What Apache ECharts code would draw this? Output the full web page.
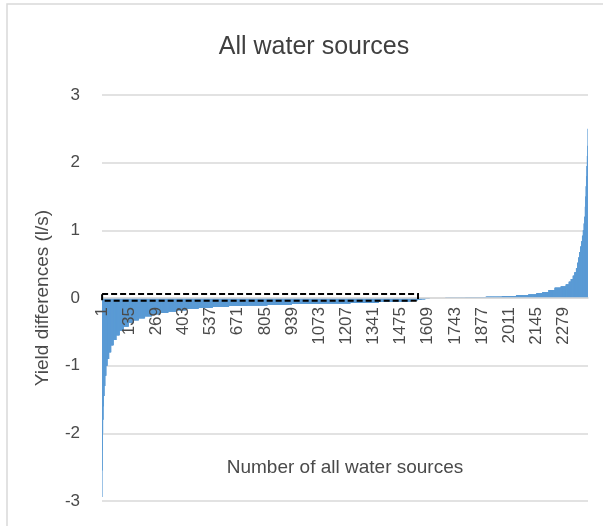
<!DOCTYPE html>
<html lang="en">
<head>
    <meta charset="UTF-8">
    <title>All water sources</title>
    <script src="https://cdn.jsdelivr.net/npm/echarts@6.0.0/dist/echarts.min.js"></script>
    <style>
        body, html {
            margin: 0;
            padding: 0;
            width: 100%;
            height: 100%;
            overflow: hidden;
            background-color: #fff;
        }
        #chart {
            width: 603px;
            height: 526px;
        }
    </style>
</head>
<body>
    <div id="chart"></div>
    <script>
        var runValues = [
            -2.94, -2.55, -2.25, -2.0, -1.8, -1.6, -1.45, -1.3, -1.15, -1.0,
            -0.9, -0.8, -0.7, -0.62, -0.55, -0.48, -0.42, -0.37, -0.33, -0.30,
            -0.27, -0.24, -0.22, -0.20, -0.18, -0.16, -0.145, -0.13, -0.12, -0.11,
            -0.10, -0.09, -0.08, -0.07, -0.06, -0.05, -0.04, -0.03, -0.02, -0.01,
            0, 0.005, 0.01, 0.02, 0.03, 0.04, 0.05, 0.07, 0.09, 0.12,
            0.15, 0.17, 0.20, 0.24, 0.28, 0.33, 0.38, 0.44, 0.52, 0.6,
            0.68, 0.76, 0.84, 0.92, 1.0, 1.1, 1.2, 1.35, 1.5, 1.65,
            1.8, 1.95, 2.1, 2.25, 2.5
        ];
        // how many water sources share each value above
        var runCounts = [
            1, 1, 1, 1, 2, 2, 3, 4, 5, 6,
            8, 10, 12, 14, 16, 20, 25, 25, 25, 30,
            35, 40, 40, 40, 50, 60, 70, 80, 90, 100,
            120, 140, 150, 140, 100, 60, 30, 20, 20, 20,
            80, 100, 100, 80, 70, 60, 40, 30, 30, 30,
            30, 25, 15, 10, 10, 8, 8, 6, 5, 5,
            5, 5, 4, 4, 4, 3, 3, 2, 2, 2,
            2, 2, 2, 1, 1
        ];
        var yTicks = [-3, -2, -1, 0, 1, 2, 3];
        var labelStep = 134;
        // dashed box around the negative part near zero
        var boxStart = '1';
        var boxEnd = '1561';
        var boxTop = 0.06;
        var boxBottom = -0.04;

        var values = [];
        for (var i = 0; i < runValues.length; i++) {
            for (var k = 0; k < runCounts[i]; k++) values.push(runValues[i]);
        }
        var categories = values.map(function (v, idx) { return String(idx + 1); });

        var textColor = '#4a4a4a';
        var font = 'Liberation Sans';
        var yMin = yTicks[0], yMax = yTicks[yTicks.length - 1];
        var gridTop = 95, gridBottom = 25;
        var gridHeight = 526 - gridTop - gridBottom;
        // the category axis crosses the value axis at 0 (onZero is unreliable here)
        var zeroOffset = -gridHeight * (0 - yMin) / (yMax - yMin);

        var option = {
            animation: false,
            backgroundColor: '#fff',
            title: {
                text: 'All water sources',
                left: 309,
                top: 30,
                textAlign: 'center',
                textStyle: { fontFamily: font, fontSize: 25, fontWeight: 'normal', color: '#404040' }
            },
            graphic: [{
                id: 'frame',
                type: 'rect',
                shape: { x: 7, y: 4, width: 700, height: 600 },
                style: { fill: 'none', stroke: '#d9d9d9', lineWidth: 1.5 },
                silent: true
            }],
            grid: { left: 102, right: 15, top: gridTop, bottom: gridBottom, outerBoundsMode: 'none', containLabel: false },
            xAxis: {
                type: 'category',
                position: 'bottom',
                offset: zeroOffset,
                z: 10,
                data: categories,
                name: 'Number of all water sources',
                nameLocation: 'middle',
                nameGap: 160,
                nameTextStyle: { fontFamily: font, fontSize: 19, color: textColor },
                axisLine: { onZero: false, lineStyle: { color: '#d9d9d9', width: 1.5 } },
                axisTick: { show: false },
                axisLabel: {
                    interval: labelStep - 1,
                    rotate: 90,
                    margin: 9,
                    fontFamily: font,
                    fontSize: 17,
                    color: textColor
                },
                splitLine: { show: false }
            },
            yAxis: {
                type: 'value',
                min: yMin,
                max: yMax,
                interval: 1,
                name: 'Yield differences (l/s)',
                nameLocation: 'middle',
                nameGap: 50,
                nameTextStyle: { fontFamily: font, fontSize: 19, color: textColor },
                axisLine: { show: false },
                axisTick: { show: false },
                axisLabel: { margin: 22, fontFamily: font, fontSize: 17, color: textColor },
                splitLine: { lineStyle: { color: '#d9d9d9', width: 1.5 } }
            },
            series: [{
                type: 'bar',
                data: values,
                barWidth: 1,
                itemStyle: { color: '#5b9bd5' }
            }]
        };

        var chart = echarts.init(document.getElementById('chart'));
        chart.setOption(option);

        // dashed box drawn on top of the bars, placed through the axes
        var p1 = chart.convertToPixel({ gridIndex: 0 }, [boxStart, boxTop]);
        var p2 = chart.convertToPixel({ gridIndex: 0 }, [boxEnd, boxBottom]);
        chart.setOption({
            graphic: [{
                id: 'box',
                type: 'rect',
                z: 100,
                shape: { x: p1[0], y: p1[1], width: p2[0] - p1[0], height: p2[1] - p1[1] },
                style: { fill: 'none', stroke: '#000', lineWidth: 2, lineDash: [6, 3] },
                silent: true
            }]
        });
    </script>
</body>
</html>
